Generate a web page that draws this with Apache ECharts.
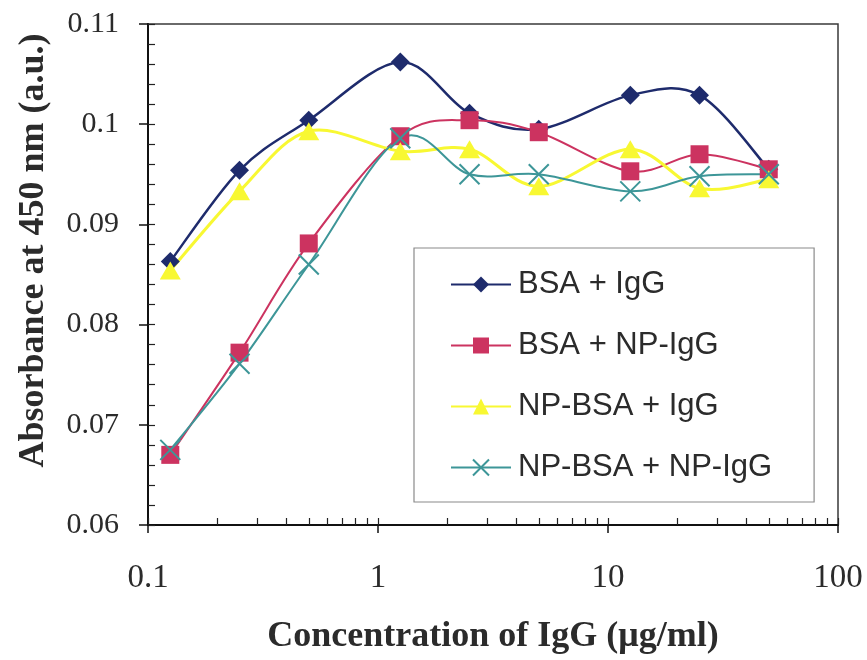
<!DOCTYPE html>
<html>
<head>
<meta charset="utf-8">
<script src="https://cdn.jsdelivr.net/npm/echarts@6/dist/echarts.min.js"></script>
<style>
html,body{margin:0;padding:0;background:#fff;}
#chart{width:867px;height:660px;}
</style>
</head>
<body>
<div id="chart"></div>
<script>
// ---- data ----
const concentrations = [0.125, 0.25, 0.5, 1.25, 2.5, 5, 12.5, 25, 50];
const bsaIgG      = [0.0863, 0.0954, 0.1004, 0.1062, 0.1011, 0.0995, 0.1029, 0.1029, 0.0955];
const bsaNpIgG    = [0.0670, 0.0772, 0.0881, 0.0988, 0.1004, 0.0992, 0.0953, 0.0970, 0.0955];
const npBsaIgG    = [0.0854, 0.0933, 0.0993, 0.0973, 0.0975, 0.0938, 0.0975, 0.0936, 0.0945];
const npBsaNpIgG  = [0.0675, 0.0761, 0.0860, 0.0986, 0.0950, 0.0950, 0.0933, 0.0948, 0.0950];
const seriesNames = ['BSA + IgG', 'BSA + NP-IgG', 'NP-BSA + IgG', 'NP-BSA + NP-IgG'];
const xTickLabels = [0.1, 1, 10, 100];
const xInnerTicks = [0.1,0.2,0.3,0.4,0.5,0.6,0.7,0.8,0.9,1,2,3,4,5,6,7,8,9,10,20,30,40,50,60,70,80,90,100];
const yTickLabels = [0.06, 0.07, 0.08, 0.09, 0.1, 0.11];

function pairs(ys){ return concentrations.map((x,i)=>[x, ys[i]]); }

const chart = echarts.init(document.getElementById('chart'), null, {renderer:'canvas'});
const serif = 'Liberation Serif';
const sans = 'Liberation Sans';

const colors = ['#1e2b6c', '#cc3360', '#f8f832', '#3d9698'];
const lineWidths = [2.5, 2, 3, 2];
const allYs = [bsaIgG, bsaNpIgG, npBsaIgG, npBsaNpIgG];

// Excel-like (Catmull-Rom) smoothed curve, drawn segment by segment through the axes' coordinate system
function curveSeries(k){
  const ys = allYs[k];
  return {
    name: seriesNames[k] + ' (curve)', type:'custom', z:1,
    data: pairs(ys),
    renderItem: function(params, api){
      const i = params.dataIndex;
      const n = ys.length;
      if (i >= n - 1) return null;
      const P = j => api.coord([concentrations[Math.max(0, Math.min(n-1, j))], ys[Math.max(0, Math.min(n-1, j))]]);
      const p0 = P(i-1), p1 = P(i), p2 = P(i+1), p3 = P(i+2);
      const t = 1/6;
      return {
        type:'bezierCurve',
        shape:{x1:p1[0], y1:p1[1], x2:p2[0], y2:p2[1],
               cpx1:p1[0] + (p2[0]-p0[0])*t, cpy1:p1[1] + (p2[1]-p0[1])*t,
               cpx2:p2[0] - (p3[0]-p1[0])*t, cpy2:p2[1] - (p3[1]-p1[1])*t},
        style:{fill:null, stroke:colors[k], lineWidth:lineWidths[k]},
        silent:true
      };
    }
  };
}

const symbols = ['diamond', 'rect', 'triangle', 'path://M0,0L10,10M10,0L0,10'];
const symbolSizes = [[19,19], 18, [21,18], 20];

function markerSeries(k){
  const s = {
    name: seriesNames[k], type:'line', z:3, data: pairs(allYs[k]),
    symbol: symbols[k], symbolSize: symbolSizes[k], showSymbol:true,
    lineStyle:{color:colors[k], width:lineWidths[k], opacity:0},
    itemStyle:{color:colors[k]}
  };
  if (k === 3) s.itemStyle = {color:'rgba(0,0,0,0)', borderColor:colors[k], borderWidth:2};
  return s;
}

const option = {
  backgroundColor: '#ffffff',
  animation: false,
  grid: {left:148, right:29, top:24, bottom:135, show:true, borderColor:'#3a3a3a', borderWidth:1.5, backgroundColor:'transparent'},
  legend: {
    orient:'vertical', left:414, top:248,
    padding:[21, 42, 19, 36],
    itemWidth:60, itemHeight:20, itemGap:30,
    borderColor:'#8a8a8a', borderWidth:1.2, backgroundColor:'#ffffff',
    textStyle:{fontFamily:sans, fontSize:31, lineHeight:31, color:'#2b2b2b', padding:[0,0,0,2]},
    data: seriesNames.map((nm,k)=>({name:nm, lineStyle:{color:colors[k], width:2, opacity:1}}))
  },
  xAxis: [
    {type:'log', logBase:10, min:0.1, max:100, position:'bottom',
     name:'Concentration of IgG (\u03bcg/ml)', nameLocation:'middle', nameGap:94,
     nameTextStyle:{fontFamily:serif, fontWeight:'bold', fontSize:36, color:'#2b2b2b'},
     axisLine:{show:true, onZero:false, lineStyle:{color:'#111', width:2}},
     axisTick:{show:true, inside:false, length:8, customValues:xTickLabels, lineStyle:{color:'#111', width:1.5}},
     axisLabel:{show:true, customValues:xTickLabels, margin:37, fontFamily:serif, fontSize:33, color:'#2b2b2b',
       formatter:(v)=>String(v)},
     splitLine:{show:false}, minorTick:{show:false}},
    {type:'log', logBase:10, min:0.1, max:100, position:'bottom',
     axisLine:{show:false},
     axisTick:{show:true, inside:true, length:7, customValues:xInnerTicks, lineStyle:{color:'#222', width:1.2}},
     axisLabel:{show:false}, splitLine:{show:false}}
  ],
  yAxis: [
    {type:'value', min:0.06, max:0.11, interval:0.01, position:'left',
     name:'Absorbance at 450 nm (a.u.)', nameLocation:'middle', nameGap:96,
     nameTextStyle:{fontFamily:serif, fontWeight:'bold', fontSize:36, color:'#2b2b2b', padding:[0,0,0,48]},
     axisLine:{show:true, onZero:false, lineStyle:{color:'#111', width:2}},
     axisTick:{show:true, inside:false, length:9, lineStyle:{color:'#111', width:1.5}},
     axisLabel:{show:true, margin:29, fontFamily:serif, fontSize:30, color:'#2b2b2b',
       formatter:(v)=>String(parseFloat(v.toFixed(3)))},
     splitLine:{show:false}},
    {type:'value', min:0.06, max:0.11, interval:0.002, position:'left',
     axisLine:{show:false},
     axisTick:{show:true, inside:true, length:7, lineStyle:{color:'#222', width:1.2}},
     axisLabel:{show:false}, splitLine:{show:false}}
  ],
  series: [0,1,2,3].map(curveSeries).concat([0,1,2,3].map(markerSeries))
};
chart.setOption(option);
</script>
</body>
</html>
